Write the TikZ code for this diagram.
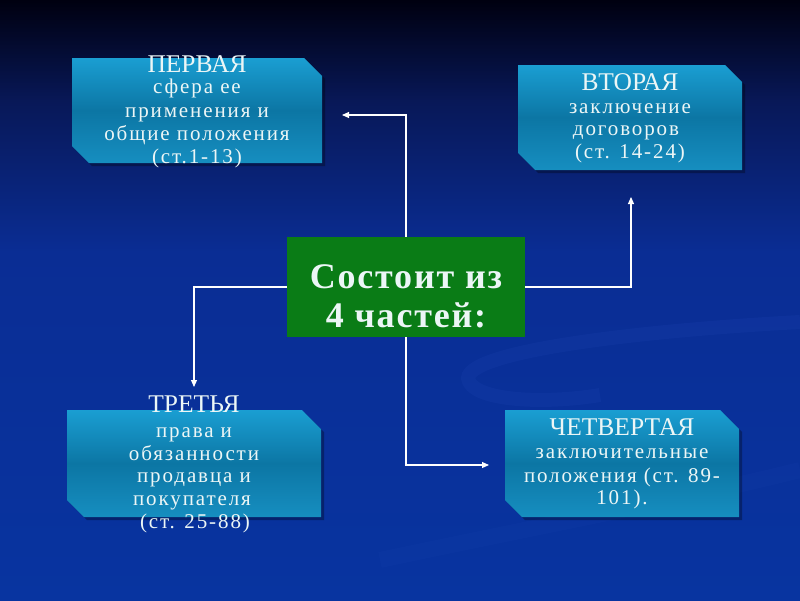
\documentclass[tikz,border=0pt]{standalone}
\usepackage{fontspec}
\setmainfont{Liberation Serif}
\newfontfamily\bodyfont[LetterSpace=9]{Liberation Serif}
\newfontfamily\ctrfont[LetterSpace=5]{Liberation Serif}
\usetikzlibrary{arrows.meta}
\definecolor{txt}{RGB}{236,246,246}
\definecolor{boxtop}{RGB}{26,158,210}
\definecolor{boxmid}{RGB}{12,118,164}
\definecolor{boxbot}{RGB}{22,142,192}
\definecolor{cgreen}{RGB}{10,124,22}
\definecolor{swoosh}{RGB}{30,70,180}
\definecolor{bgA}{RGB}{8,52,160}
\definecolor{bgB}{RGB}{10,45,148}
\definecolor{bgC}{RGB}{8,24,88}
\definecolor{bgD}{RGB}{0,0,16}
\pgfdeclareverticalshading{bgshade}{100bp}{color(0bp)=(bgA); color(25bp)=(bgA); color(54bp)=(bgB); color(66.5bp)=(bgC); color(75bp)=(bgD); color(100bp)=(bgD)}
\newcommand\chambox[6]{%
  \fill[black,opacity=0.30] (#2+3,#3+3) -- (#4-#6+3,#3+3) -- (#4+3,#3+#6+3) -- (#4+3,#5+3) -- (#2+17+3,#5+3) -- (#2+3,#5-17+3) -- cycle;
  \shade[top color=boxtop,bottom color=boxbot,middle color=boxmid] (#2,#3) -- (#4-#6,#3) -- (#4,#3+#6) -- (#4,#5) -- (#2+17,#5) -- (#2,#5-17) -- cycle;
  \node[inner sep=0pt,minimum width={#4-#2},minimum height={#5-#3}] (#1) at ({(#2+#4)/2},{(#3+#5)/2}) {};
}
\tikzset{
  ttl/.style={font=\fontsize{25.5}{25.5}\selectfont,text=txt,anchor=base,inner sep=0pt},
  bdy/.style={font=\bodyfont\fontsize{21}{21}\selectfont,text=txt,anchor=base,inner sep=0pt},
  ctr/.style={font=\ctrfont\fontsize{36}{36}\selectfont\bfseries,text=txt,anchor=base,inner sep=0pt},
  conn/.style={draw=white,line width=1.1pt,-{Triangle[length=7pt,width=6pt]}}
}
\begin{document}
\begin{tikzpicture}[x=1pt,y=-1pt]
\useasboundingbox (0,0) rectangle (800,600);
\shade[shading=bgshade] (0,0) rectangle (800,600);
% faint background swooshes
\draw[swoosh,opacity=0.20,line width=14pt] (800,322) .. controls (650,330) and (470,350) .. (468,378) .. controls (470,400) and (540,405) .. (600,395);
\draw[swoosh,opacity=0.12,line width=16pt] (380,560) .. controls (520,530) and (680,500) .. (800,470);

\chambox{b1}{72}{58}{322}{163}{18}
\chambox{b2}{518}{65}{742}{170}{17}
\chambox{b3}{67}{410}{321}{517}{19}
\chambox{b4}{505}{410}{739}{517}{19}

\node[fill=cgreen,inner sep=0pt,minimum width=238,minimum height=100] (c) at (406,287) {};
\node[ctr] (c1) at (406,288) {Состоит из};
\node[ctr] (c2) at (406,327) {4 частей:};

% box 1
\node[ttl] (t1) at (197,72) {ПЕРВАЯ};
\node[bdy] (t1a) at (197,93) {сфера ее};
\node[bdy] (t1b) at (197,117) {применения и};
\node[bdy] (t1c) at (197,140) {общие положения};
\node[bdy] (t1d) at (197,163) {(ст.1-13)};
% box 2
\node[ttl] (t2) at (630,90) {ВТОРАЯ};
\node[bdy] (t2a) at (630,113) {заключение};
\node[bdy] (t2b) at (626,135) {договоров};
\node[bdy] (t2c) at (630,158) {(ст. 14-24)};
% box 3
\node[ttl] (t3) at (194,412) {ТРЕТЬЯ};
\node[bdy] (t3a) at (194,437) {права и};
\node[bdy] (t3b) at (194,460) {обязанности};
\node[bdy] (t3c) at (194,482) {продавца и};
\node[bdy] (t3d) at (192,505) {покупателя};
\node[bdy] (t3e) at (195,528) {(ст. 25-88)};
% box 4
\node[ttl] (t4) at (622,435) {ЧЕТВЕРТАЯ};
\node[bdy] (t4a) at (622,458) {заключительные};
\node[bdy] (t4b) at (622,482) {положения (ст. 89-};
\node[bdy] (t4c) at (622,504) {101).};

% connectors
\coordinate (a1) at (342,115);
\coordinate (a2) at (631,197);
\coordinate (a3) at (194,387);
\coordinate (a4) at (489,465);
\draw[conn] (c.north) |- (a1);
\draw[conn] (c.east) -| (a2);
\draw[conn] (c.west) -| (a3);
\draw[conn] (c.south) |- (a4);
\end{tikzpicture}
\end{document}
